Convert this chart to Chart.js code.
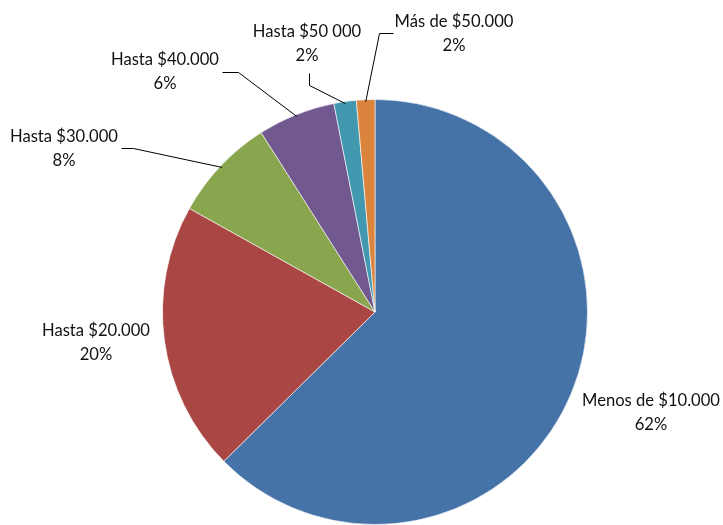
<!DOCTYPE html>
<html lang="es">
<head>
  <meta charset="UTF-8">
  <title>Distribución por ingreso</title>
  <script src="https://cdn.jsdelivr.net/npm/chart.js"></script>
  <style>
    html, body { margin: 0; padding: 0; background: #fff; }
    #wrap { width: 723px; height: 525px; position: relative; }
  </style>
</head>
<body>
  <div id="wrap"><canvas id="torta"></canvas></div>

  <script>
  // datos
  const categorias = ['Menos de $10.000', 'Hasta $20.000', 'Hasta $30.000', 'Hasta $40.000', 'Hasta $50 000', 'Más de $50.000'];
  const porcentajes = [62.6, 20.5, 7.9, 5.9, 1.7, 1.4];
  const etiquetasPct = ['62%', '20%', '8%', '6%', '2%', '2%'];
  const colores = ['#4572A7', '#AA4643', '#89A54E', '#71588F', '#4198AF', '#DB843D'];

  // posición de cada etiqueta (centro del texto) y quiebre de la línea guía
  const posEtiquetas = [
    { x: 651, y: 401, guia: null },
    { x: 96,  y: 331, guia: null },
    { x: 64,  y: 137, guia: [[121, 148], [133, 148]] },
    { x: 165, y: 60,  guia: [[222, 72], [238, 72]] },
    { x: 307, y: 32,  guia: [[309, 73], [309, 85]] },
    { x: 454, y: 22,  guia: [[393, 33], [379, 33]] }
  ];

  const FUENTE = '16.6px Lato, "Open Sans", sans-serif';

  const etiquetasPlugin = {
    id: 'etiquetas',
    afterDatasetsDraw(chart) {
      const ctx = chart.ctx;
      const arcos = chart.getDatasetMeta(0).data;
      ctx.save();
      arcos.forEach((arco, i) => {
        const p = posEtiquetas[i];
        const { x, y, startAngle, endAngle, outerRadius } = arco.getProps(['x', 'y', 'startAngle', 'endAngle', 'outerRadius'], true);
        if (p.guia) {
          const medio = (startAngle + endAngle) / 2;
          const r = outerRadius - 2;
          ctx.beginPath();
          ctx.strokeStyle = '#000';
          ctx.lineWidth = 1;
          ctx.moveTo(p.guia[0][0] + 0.5, p.guia[0][1] + 0.5);
          ctx.lineTo(p.guia[1][0] + 0.5, p.guia[1][1] + 0.5);
          ctx.lineTo(x + Math.cos(medio) * r, y + Math.sin(medio) * r);
          ctx.stroke();
        }
        ctx.fillStyle = '#111';
        ctx.font = FUENTE;
        ctx.textAlign = 'center';
        ctx.textBaseline = 'middle';
        ctx.fillText(categorias[i], p.x, p.y);
        ctx.fillText(etiquetasPct[i], p.x, p.y + 24);
      });
      ctx.restore();
    }
  };

  new Chart(document.getElementById('torta'), {
    type: 'pie',
    data: {
      labels: categorias,
      datasets: [{
        data: porcentajes,
        backgroundColor: colores,
        borderColor: 'rgba(255,255,255,0.6)',
        borderWidth: 1
      }]
    },
    options: {
      responsive: true,
      maintainAspectRatio: false,
      animation: false,
      layout: { padding: { left: 162, right: 135, top: 99, bottom: 0 } },
      plugins: {
        legend: { display: false },
        tooltip: { enabled: false }
      }
    },
    plugins: [etiquetasPlugin]
  });
  </script>
</body>
</html>
